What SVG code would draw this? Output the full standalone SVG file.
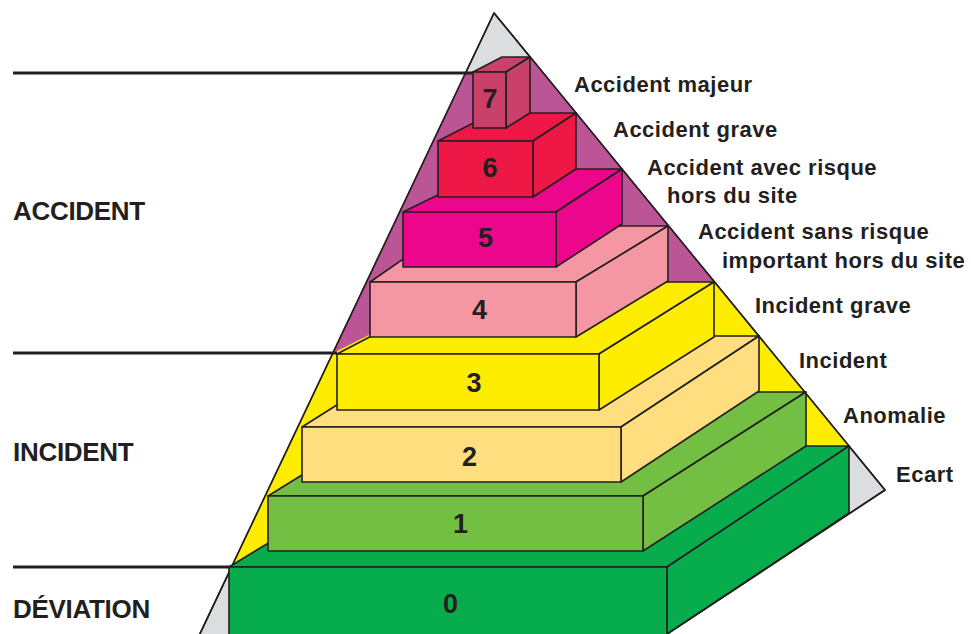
<svg xmlns="http://www.w3.org/2000/svg" width="971" height="634" viewBox="0 0 971 634">
<style>
.edge{stroke:#231F20;stroke-width:1.6;stroke-linejoin:round}
.num{font-family:"Liberation Sans",Arial,Helvetica,sans-serif;font-weight:bold;font-size:27px;fill:#231F20;text-anchor:middle}
.lbl{font-family:"Liberation Sans",Arial,Helvetica,sans-serif;font-weight:bold;font-size:22px;fill:#231F20;letter-spacing:0.5px}
.cat{font-family:"Liberation Sans",Arial,Helvetica,sans-serif;font-weight:bold;font-size:26px;fill:#231F20;letter-spacing:-0.3px}
.sep{stroke:#231F20;stroke-width:2.8;fill:none}
</style>
<rect width="971" height="634" fill="#FFFFFF"/>
<g id="pyramid-background">
<polygon points="494,13 885,490 658,640 197,640" fill="#DCDDDE" class="edge"/>
<polygon points="466,72 473,72 502,57 531,57 715,282 475,282 337,354 333,353" fill="#BC5595"/>
<polygon points="333,353 475,282 715,282 849,446 427,446 229,567 232,567" fill="#FFED00"/>
<polygon points="494,13 885,490 658,640 197,640" fill="none" class="edge"/>
</g>
<g id="level-0">
<polygon points="229,567 427,446 849,446 667,567" fill="#07AD4C" class="edge"/>
<polygon points="667,567 849,446 849,513 667,634" fill="#07AD4C" class="edge"/>
<rect x="229" y="567" width="438" height="75" fill="#07AD4C" class="edge"/>
<text class="num" x="450.5" y="613">0</text>
</g>
<g id="level-1">
<polygon points="268,496 436,392 806,392 643,496" fill="#72BF44" class="edge"/>
<polygon points="643,496 806,392 806,446 643,551" fill="#72BF44" class="edge"/>
<rect x="268" y="496" width="375" height="55" fill="#72BF44" class="edge"/>
<text class="num" x="460.5" y="533">1</text>
</g>
<g id="level-2">
<polygon points="302,427 446,336 759,336 621,427" fill="#FEDE7F" class="edge"/>
<polygon points="621,427 759,336 759,391 621,482" fill="#FEDE7F" class="edge"/>
<rect x="302" y="427" width="319" height="55" fill="#FEDE7F" class="edge"/>
<text class="num" x="469.5" y="466">2</text>
</g>
<g id="level-3">
<polygon points="337,354 475,282 714,282 599,354" fill="#FFED00" class="edge"/>
<polygon points="599,354 714,282 714,337 599,410" fill="#FFED00" class="edge"/>
<rect x="337" y="354" width="262" height="56" fill="#FFED00" class="edge"/>
<text class="num" x="474" y="392">3</text>
</g>
<g id="level-4">
<polygon points="370,282 451,226 668,226 576,282" fill="#F497A3" class="edge"/>
<polygon points="576,282 668,226 668,281 576,337" fill="#F497A3" class="edge"/>
<rect x="370" y="282" width="206" height="55" fill="#F497A3" class="edge"/>
<text class="num" x="479.5" y="319">4</text>
</g>
<g id="level-5">
<polygon points="403,212 491,169 622,169 556,212" fill="#EC068C" class="edge"/>
<polygon points="556,212 622,169 622,224 556,267" fill="#EC068C" class="edge"/>
<rect x="403" y="212" width="153" height="55" fill="#EC068C" class="edge"/>
<text class="num" x="485.5" y="247">5</text>
</g>
<g id="level-6">
<polygon points="438,141 493,113 576,113 533,141" fill="#ED1846" class="edge"/>
<polygon points="533,141 576,113 576,169 533,197" fill="#ED1846" class="edge"/>
<rect x="438" y="141" width="95" height="56" fill="#ED1846" class="edge"/>
<text class="num" x="490" y="177">6</text>
</g>
<g id="level-7">
<polygon points="473,72 502,57 530,57 506,72" fill="#C9406B" class="edge"/>
<polygon points="506,72 530,57 530,113 506,128" fill="#C9406B" class="edge"/>
<rect x="473" y="72" width="33" height="56" fill="#C9406B" class="edge"/>
<text class="num" x="490" y="108">7</text>
</g>
<g id="connectors">
<line class="sep" x1="13" y1="73" x2="473" y2="73"/>
<line class="sep" x1="13" y1="353" x2="337" y2="353"/>
<line class="sep" x1="13" y1="567" x2="230" y2="567"/>
</g>
<g id="labels-right">
<text class="lbl" x="574" y="92">Accident majeur</text>
<text class="lbl" x="613" y="137">Accident grave</text>
<text class="lbl" x="647" y="175">Accident avec risque</text>
<text class="lbl" x="667" y="203">hors du site</text>
<text class="lbl" x="698" y="239">Accident sans risque</text>
<text class="lbl" x="722" y="268">important hors du site</text>
<text class="lbl" x="755" y="313">Incident grave</text>
<text class="lbl" x="799" y="368">Incident</text>
<text class="lbl" x="843" y="423">Anomalie</text>
<text class="lbl" x="896" y="482">Ecart</text>
</g>
<g id="labels-left">
<text class="cat" x="13" y="220">ACCIDENT</text>
<text class="cat" x="13" y="461">INCIDENT</text>
<text class="cat" x="13" y="618">DÉVIATION</text>
</g>
</svg>
